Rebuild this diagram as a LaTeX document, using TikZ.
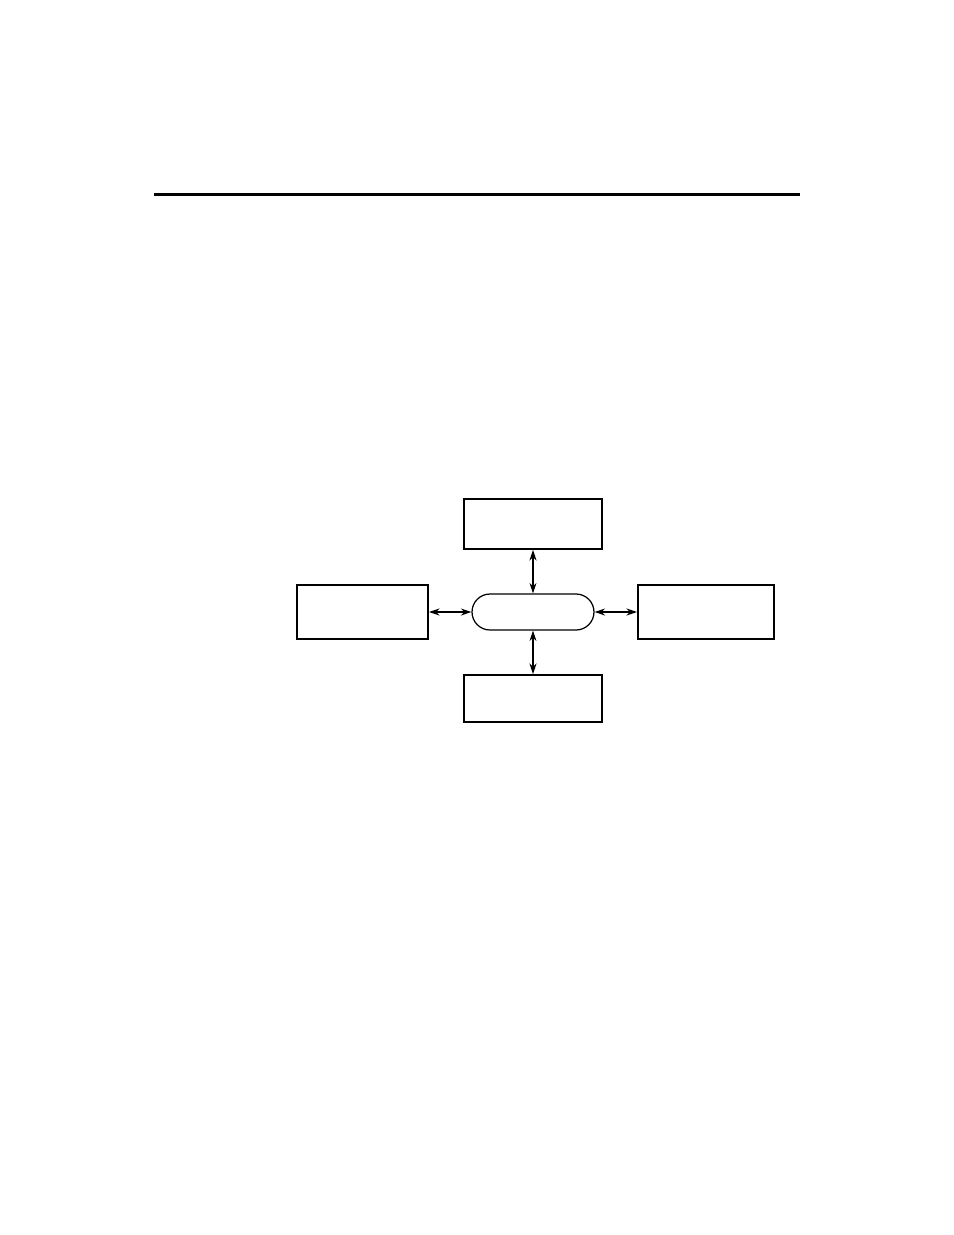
\documentclass[tikz,border=0pt]{standalone}
\usetikzlibrary{shapes.misc,arrows.meta}
\tikzset{
  blk/.style={draw,line width=1.1pt,inner sep=0pt},
  pill/.style={draw,rounded rectangle,line width=0.7pt,inner sep=0pt,minimum width=2.44cm,minimum height=0.72cm},
  link/.style={{Stealth[length=6pt,width=4pt]}-{Stealth[length=6pt,width=4pt]}}
}
\begin{document}
\begin{tikzpicture}[x=0.02cm,y=-0.02cm]
\useasboundingbox (0,0) rectangle (954,1235);
\draw[line width=1.7pt] (154,194) -- (800,194);
\node[pill] (hub) at (533,612) {};
\node[blk,minimum width=2.76cm,minimum height=1.0cm] (top) at (533,524) {};
\node[blk,minimum width=2.62cm,minimum height=1.08cm] (left) at (362.5,612) {};
\node[blk,minimum width=2.72cm,minimum height=1.08cm] (right) at (706,612) {};
\node[blk,minimum width=2.76cm,minimum height=0.94cm] (bottom) at (533,698.5) {};
\draw[link,line width=0.6pt] (top) -- (hub);
\draw[link,line width=0.6pt] (hub) -- (bottom);
\draw[link,line width=1.1pt] (left) -- (hub);
\draw[link,line width=1.1pt] (hub) -- (right);
\end{tikzpicture}
\end{document}
